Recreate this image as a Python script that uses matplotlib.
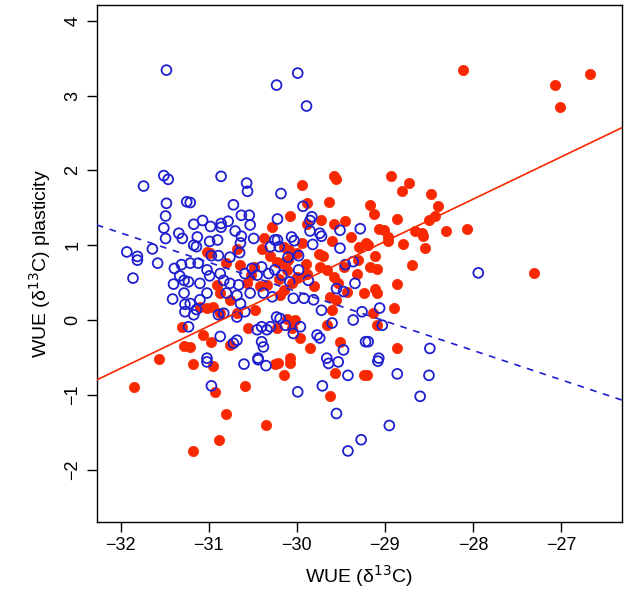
import matplotlib.pyplot as plt

# open circles (blue)
blue_x = [-31.48, -29.99, -30.23, -29.89, -27.94,
          -31.74, -31.51, -31.46, -31.48, -31.49, -31.51, -31.49, -31.34, -31.30, -31.64, -31.93, -31.81, -31.25,
          -30.86, -30.57, -30.56, -31.21, -30.72, -30.63, -30.54, -31.07, -31.17, -30.98, -30.86, -30.86, -30.78,
          -30.70, -30.53, -31.13, -30.63, -30.49, -30.99, -30.90, -31.17, -31.14, -30.64, -30.30, -30.25, -30.97,
          -30.89, -30.76, -30.65,
          -30.18, -29.93, -29.83, -29.85, -30.22, -29.85, -29.74, -29.72, -29.51, -29.51, -29.28, -30.06, -30.03,
          -29.82, -30.22, -30.20, -30.10, -29.98,
          -31.81, -31.58, -31.86, -31.39, -31.31, -31.33, -31.28, -31.40, -31.28, -31.41, -31.27, -31.27,
          -31.21, -31.12, -31.02, -30.99, -30.87, -30.83, -30.76, -30.66, -30.59, -30.51, -30.45, -30.40, -30.32,
          -30.25, -31.10, -31.02, -30.80, -30.68, -30.64, -30.53, -30.38, -30.28, -31.23, -31.21, -31.10, -31.14,
          -31.17, -31.23, -30.89, -30.83, -30.68, -30.59, -30.45, -30.40, -30.34, -30.30, -30.87, -30.40, -30.38,
          -30.44, -31.02, -30.68, -30.72, -30.23,
          -30.17, -30.08, -30.04, -29.92, -29.81, -29.72, -29.60, -29.55, -29.47, -29.45, -29.34, -29.26, -29.36,
          -29.98, -29.87, -30.19, -30.13, -30.04, -29.96, -29.77, -29.74, -29.66, -29.47, -29.22, -29.36,
          -29.06, -29.03, -28.49, -29.19, -29.07,
          -31.02, -30.60, -30.35, -30.97, -30.44,
          -29.99, -29.71, -29.55, -29.42, -29.27, -29.64, -29.53, -29.42,
          -29.08, -28.86, -28.50, -28.60, -28.95]
blue_y = [3.34, 3.30, 3.14, 2.86, 0.63,
          1.79, 1.93, 1.88, 1.56, 1.39, 1.23, 1.09, 1.16, 1.09, 0.95, 0.91, 0.85, 1.58,
          1.92, 1.83, 1.72, 1.57, 1.54, 1.40, 1.40, 1.33, 1.28, 1.25, 1.29, 1.24, 1.32,
          1.19, 1.27, 1.11, 1.12, 1.09, 1.05, 1.07, 1.00, 0.98, 1.03, 0.98, 1.07, 0.86,
          0.86, 0.84, 0.90,
          1.69, 1.52, 1.38, 1.33, 1.35, 1.19, 1.16, 1.12, 1.20, 0.96, 1.22, 1.11, 1.06,
          1.01, 1.07, 0.98, 0.84, 0.86,
          0.80, 0.76, 0.56, 0.69, 0.74, 0.59, 0.53, 0.48, 0.36, 0.28, 0.21, 0.11,
          0.76, 0.76, 0.67, 0.59, 0.62, 0.53, 0.49, 0.47, 0.62, 0.69, 0.60, 0.71, 0.62,
          0.67, 0.49, 0.36, 0.36, 0.33, 0.22, 0.36, 0.36, 0.31, 0.51, 0.22, 0.27, 0.14,
          0.07, -0.09, 0.07, 0.09, 0.04, 0.11, -0.13, -0.09, -0.13, -0.09, -0.22, -0.29, -0.36,
          -0.51, -0.51, -0.27, -0.31, 0.04,
          0.60, 0.51, 0.29, 0.29, 0.27, 0.13, -0.04, 0.42, 0.38, 0.74, 0.49, 0.11, 0.00,
          0.67, 0.53, 0.02, -0.07, -0.18, -0.09, -0.20, -0.24, -0.51, -0.40, -0.29, 0.78,
          0.16, -0.07, -0.38, -0.29, -0.51,
          -0.56, -0.59, -0.61, -0.88, -0.53,
          -0.96, -0.88, -1.25, -1.75, -1.60, -0.58, -0.56, -0.74,
          -0.55, -0.72, -0.74, -1.02, -1.41]

# filled circles (red)
red_x = [-28.11, -27.07, -27.01, -26.67, -27.31, -28.07,
         -30.37, -30.28, -30.68, -31.02, -30.99,
         -29.58, -29.55, -29.94, -29.63, -29.89, -30.08, -29.72, -29.58, -29.45, -29.89, -29.38, -29.60,
         -29.75, -29.29, -29.22, -29.94, -30.00, -30.15, -30.09,
         -28.93, -28.73, -28.81, -28.48, -28.40, -28.43, -28.50, -28.31, -29.17, -29.12, -28.86, -29.07,
         -29.01, -28.66, -28.58, -28.57, -28.96, -28.97, -28.80, -28.54, -29.11, -29.19,
         -31.30, -31.28, -31.56, -31.85,
         -30.91, -30.87, -30.57, -30.49, -30.64, -30.80, -30.42, -30.34, -30.95, -31.02, -31.10, -30.76,
         -30.87, -30.68, -30.47, -30.55, -31.06, -30.97, -30.76, -30.23, -31.21,
         -30.19, -30.11, -30.00, -29.89, -30.19, -30.15, -29.74, -29.66, -29.58, -29.53, -29.47, -29.62,
         -29.55, -29.43, -29.32, -29.24, -29.60, -30.11, -30.02, -30.06, -29.96, -29.66, -29.51, -29.85,
         -30.08, -30.23,
         -28.69, -29.17, -29.09, -28.86, -29.11, -29.09, -28.90, -29.14, -29.09, -28.86,
         -31.18, -30.95, -30.59, -30.93, -30.80, -30.35, -30.88, -31.18, -30.25,
         -30.15, -30.08, -30.21, -29.57, -29.62, -29.24, -29.20,
         -30.40, -30.30, -30.10, -29.90, -29.70, -29.30, -30.52, -30.20, -29.80, -30.05]
red_y = [3.34, 3.14, 2.85, 3.29, 0.63, 1.22,
         1.10, 1.24, 0.95, 0.91, 0.89,
         1.92, 1.88, 1.80, 1.58, 1.57, 1.39, 1.34, 1.28, 1.32, 1.28, 1.11, 1.05,
         0.88, 0.98, 1.03, 1.03, 0.89, 0.98, 0.94,
         1.93, 1.83, 1.73, 1.69, 1.53, 1.39, 1.34, 1.19, 1.54, 1.42, 1.35, 1.22,
         1.20, 1.19, 1.16, 1.12, 1.11, 1.06, 1.01, 0.96, 0.86, 1.00,
         -0.10, -0.35, -0.52, -0.89,
         0.47, 0.36, 0.49, 0.71, 0.74, 0.76, 0.45, 0.47, 0.18, 0.16, 0.18, 0.27,
         0.09, 0.09, 0.13, -0.11, -0.20, -0.29, -0.33, 0.78, -0.36,
         0.76, 0.67, 0.58, 0.62, 0.33, 0.40, 0.71, 0.67, 0.58, 0.49, 0.71, 0.31,
         0.27, 0.38, 0.62, 0.36, 0.13, 0.02, 0.00, -0.11, -0.24, -0.07, -0.29, -0.38,
         -0.51, -0.11,
         0.74, 0.71, 0.68, 0.48, 0.41, 0.36, 0.16, 0.10, -0.07, -0.38,
         -0.59, -0.62, -0.88, -0.96, -1.25, -1.40, -1.60, -1.75, -0.59,
         -0.73, -0.58, -0.58, -0.71, -1.02, -0.74, -0.74,
         0.95, 0.85, 0.80, 0.75, 0.85, 0.80, 0.60, 0.55, 0.45, 0.50]

# fitted lines (ends at the plot edges)
line_x = [-32.27, -26.31]
red_line_y = [-0.80, 2.57]
blue_line_y = [1.27, -1.07]

x_ticks = [-32, -31, -30, -29, -28, -27]
y_ticks = [-2, -1, 0, 1, 2, 3, 4]

red = '#f82800'
blue = '#1f1fd0'

plt.rcParams['font.family'] = ['Liberation Sans', 'DejaVu Sans']
fig = plt.figure(figsize=(6.25, 5.97), dpi=100)
ax = fig.add_axes([0.155, 0.1256, 0.84, 0.866])

ax.scatter(red_x, red_y, s=55, color=red, edgecolors=red, linewidths=0.5, zorder=2)
ax.scatter(blue_x, blue_y, s=50, facecolors='none', edgecolors=blue, linewidths=1.3, zorder=3)
ax.plot(line_x, red_line_y, color=red, lw=1.2, zorder=4)
ax.plot(line_x, blue_line_y, color=blue, lw=1.2, ls=(0, (4, 4)), zorder=4)

ax.set_xlim(-32.27, -26.31)
ax.set_ylim(-2.70, 4.21)
ax.set_xticks(x_ticks)
ax.set_yticks(y_ticks)
ax.set_xticklabels(['\u2212%d' % -t for t in x_ticks])
ax.set_yticklabels([('\u2212%d' % -t) if t < 0 else str(t) for t in y_ticks],
                   rotation=90, va='center')
ax.tick_params(direction='out', length=7, width=1, labelsize=13, pad=4)
for sp in ax.spines.values():
    sp.set_linewidth(1)

ax.set_xlabel('WUE (\u03b4$^{13}$C)', fontsize=14, labelpad=6)
ax.set_ylabel('WUE (\u03b4$^{13}$C) plasticity', fontsize=14, labelpad=8)

fig.savefig('out.png', dpi=100)
